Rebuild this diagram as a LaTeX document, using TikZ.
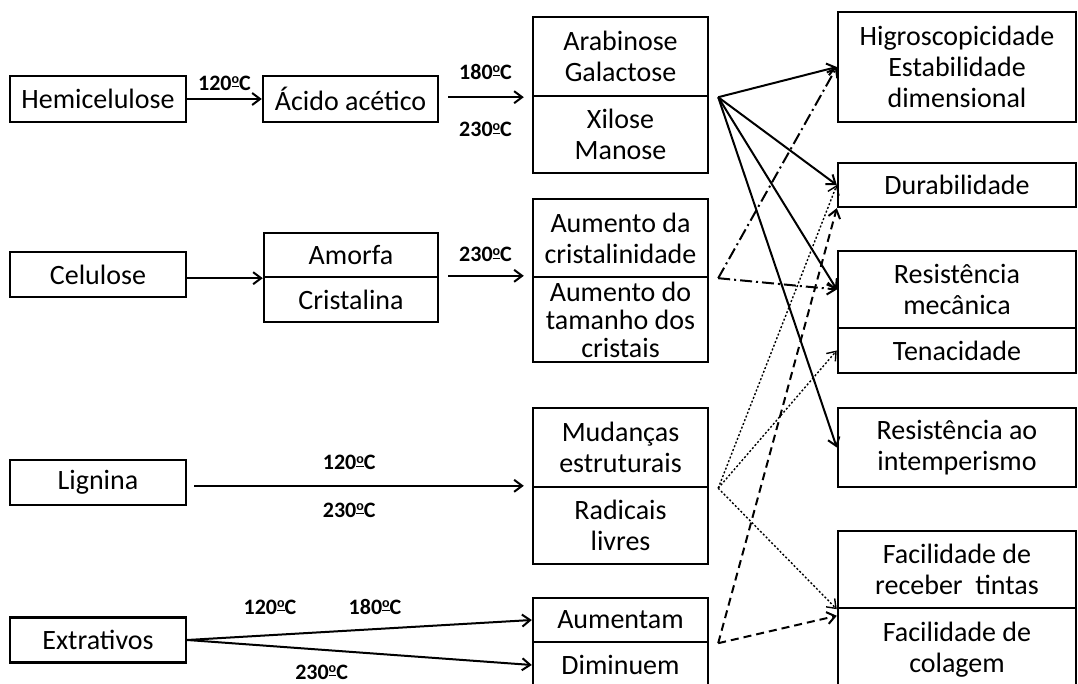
\documentclass[tikz,border=0pt]{standalone}
\usepackage{fontspec}
\setmainfont{Carlito}
\usetikzlibrary{arrows.meta,positioning}
\newcommand{\grau}{\raisebox{0.6ex}{\fontsize{7}{7}\selectfont\underline{o}}}

\begin{document}
\begin{tikzpicture}[x=0.5pt,y=-0.5pt,>={Straight Barb[length=4pt,width=6pt]}]
		\begin{scope}[scale=1]
		
		\tikzstyle{caixa}=[rectangle,
		draw=black,
		line width=1.2pt,
		inner sep=0pt,
		align=center,
		font=\fontsize{14}{15.5}\selectfont
		]
		\tikzstyle{temp}=[inner sep=3pt, font=\fontsize{11}{13}\selectfont\bfseries]
		\tikzstyle{seta}=[->, line width=1pt]
		\tikzstyle{tracoponto}=[dash pattern=on 6pt off 2pt on 1pt off 2pt]
		\tikzstyle{pontilhado}=[dash pattern=on 1pt off 1pt, line width=0.7pt]
		\tikzstyle{tracejado}=[dash pattern=on 4pt off 2.5pt]
		
		\useasboundingbox (0,0) rectangle (1078,684);
		
		\coordinate (phemi) at (98, 99);
		\coordinate (pacido) at (350.5, 99);
		\coordinate (pcelu) at (98, 274.5);
		\coordinate (pamorfa) at (351, 255);
		\coordinate (pcrist) at (351, 299.5);
		\coordinate (plign) at (98, 482.5);
		\coordinate (pextr) at (98, 640);
		\coordinate (parab) at (620.5, 56.5);
		\coordinate (pxilo) at (620.5, 134.5);
		\coordinate (paum1) at (620.5, 238);
		\coordinate (paum2) at (620.5, 319.5);
		\coordinate (pmud) at (620.5, 447.5);
		\coordinate (prad) at (620.5, 525.5);
		\coordinate (paumt) at (620.5, 620);
		\coordinate (pdimi) at (620.5, 665);
		\coordinate (phigro) at (957, 67);
		\coordinate (pdura) at (957, 185);
		\coordinate (presm) at (957, 289.5);
		\coordinate (ptena) at (957, 350.5);
		\coordinate (pintemp) at (957, 447.5);
		\coordinate (pfaci1) at (957, 569.5);
		\coordinate (pfaci2) at (957, 650);
		
		
		\node[caixa, minimum width=88pt, minimum height=23pt] (hemi) at (phemi) {Hemicelulose};
		\node[caixa, minimum width=87.5pt, minimum height=23pt] (acido) at (pacido) {Ácido acético};
		\node[caixa, minimum width=88pt, minimum height=22.5pt] (celu) at (pcelu) {Celulose};
		\node[caixa, minimum width=87pt, minimum height=22pt] (amorfa) at (pamorfa) {Amorfa};
		\node[caixa, minimum width=87pt, minimum height=22.5pt] (crist) at (pcrist) {Cristalina};
		\node[caixa, minimum width=88pt, minimum height=22.5pt] (lign) at (plign) {Lignina};
		\node[caixa, minimum width=88pt, minimum height=22.5pt] (extr) at (pextr) {Extrativos};
		
		\node[caixa, minimum width=87.5pt, minimum height=39.5pt] (arab) at (parab) {Arabinose\\Galactose};
		\node[caixa, minimum width=87.5pt, minimum height=38.5pt] (xilo) at (pxilo) {Xilose\\Manose};
		\node[caixa, minimum width=87.5pt, minimum height=39pt] (aum1) at (paum1) {Aumento da\\cristalinidade};
		\node[caixa, minimum width=87.5pt, minimum height=42.5pt, font=\fontsize{14}{14}\selectfont] (aum2) at (paum2) {Aumento do\\tamanho dos\\cristais};
		\node[caixa, minimum width=87.5pt, minimum height=39.5pt] (mud) at (pmud) {Mudanças\\estruturais};
		\node[caixa, minimum width=87.5pt, minimum height=38.5pt] (rad) at (prad) {Radicais\\livres};
		\node[caixa, minimum width=87.5pt, minimum height=22pt] (aumt) at (paumt) {Aumentam};
		\node[caixa, minimum width=87.5pt, minimum height=23pt] (dimi) at (pdimi) {Diminuem};
		
		\node[caixa, minimum width=119pt, minimum height=55pt] (higro) at (phigro) {Higroscopicidade\\Estabilidade\\dimensional};
		\node[caixa, minimum width=119pt, minimum height=22pt] (dura) at (pdura) {Durabilidade};
		\node[caixa, minimum width=119pt, minimum height=38.5pt] (resm) at (presm) {Resistência\\mecânica};
		\node[caixa, minimum width=119pt, minimum height=22.5pt] (tena) at (ptena) {Tenacidade};
		\node[caixa, minimum width=119pt, minimum height=39.5pt] (intemp) at (pintemp) {Resistência ao\\intemperismo};
		\node[caixa, minimum width=119pt, minimum height=38.5pt] (faci1) at (pfaci1) {Facilidade de\\receber\ \ tintas};
		\node[caixa, minimum width=119pt, minimum height=42pt] (faci2) at (pfaci2) {Facilidade de\\colagem};
		
		% temperaturas
		\draw[seta] (hemi) -- node[temp, above=0.9pt] (t1) {120\grau C} (acido);
		\draw[seta, shorten <=4.5pt, shorten >=4pt] (acido.east |- arab.south west) -- node[temp, above=5.4pt] (t2) {180\grau C} node[temp, below=8.9pt] (t3) {230\grau C} (arab.south west);
		\draw[seta] (celu.east |- amorfa.south west) -- (amorfa.south west);
		\draw[seta, shorten <=4.5pt, shorten >=4pt] (crist.north east) -- node[temp, above=3.4pt] (t4) {230\grau C} (aum2.north west);
		\draw[seta, shorten <=3.5pt, shorten >=4pt] (lign.east |- rad.north west) -- node[temp, pos=0.47, above=4.4pt] (t5) {120\grau C} node[temp, pos=0.47, below=4.9pt] (t6) {230\grau C} (rad.north west);
		\draw[seta] (extr.east) -- node[temp, pos=0.24, above=6.9pt] (t7) {120\grau C} node[temp, pos=0.545, above=3.9pt] (t8) {180\grau C} (aumt.west);
		\draw[seta] (extr.east) -- node[temp, pos=0.39, below=4.1pt] (t9) {230\grau C} (dimi.west);
		
		% efeitos nas propriedades
		\coordinate[right=4.5pt of arab.south east] (fa);
		\coordinate[right=4.5pt of aum1.south east] (fb);
		\coordinate[right=4.5pt of mud.south east] (fc);
		\coordinate[right=4.5pt of aumt.south east] (fd);
		
		\draw[seta] (fa) -- (higro.west);
		\draw[seta] (fa) -- (dura.west);
		\draw[seta] (fa) -- (resm.west);
		\draw[seta] (fa) -- (intemp.west);
		\draw[seta, tracoponto] (fb) -- (higro.west);
		\draw[seta, tracoponto] (fb) -- (resm.west);
		\draw[seta, pontilhado] (fc) -- (dura.west);
		\draw[seta, pontilhado] (fc) -- (tena.west);
		\draw[seta, pontilhado] (fc) -- (faci1.south west);
		\draw[seta, tracejado] (fd) -- (dura.south west);
		\draw[seta, tracejado] (fd) -- ([yshift=-4.5pt]faci2.north west);
		
		\end{scope}
		\end{tikzpicture}
\end{document}
